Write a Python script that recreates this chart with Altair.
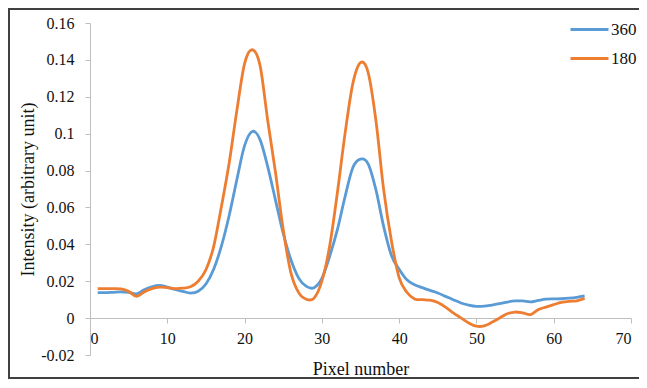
import altair as alt
import pandas as pd

pixels = list(range(1, 65))

s360 = [0.0138, 0.0138, 0.0140, 0.0142, 0.0140, 0.0131, 0.0154, 0.0170, 0.0177, 0.0168,
        0.0155, 0.0145, 0.0136, 0.0146, 0.0185, 0.0265, 0.0390, 0.0555, 0.0750, 0.0935,
        0.1012, 0.0968, 0.0820, 0.0640, 0.0460, 0.0316, 0.0217, 0.0172, 0.0165, 0.0215,
        0.0334, 0.0478, 0.0658, 0.0815, 0.0862, 0.0835, 0.0695, 0.0496, 0.0340, 0.0265,
        0.0208, 0.0181, 0.0165, 0.0150, 0.0136, 0.0118, 0.0100, 0.0082, 0.0071, 0.0064,
        0.0065, 0.0071, 0.0078, 0.0087, 0.0093, 0.0093, 0.0088, 0.0096, 0.0103, 0.0104,
        0.0105, 0.0108, 0.0113, 0.0120]

s180 = [0.0160, 0.0160, 0.0160, 0.0158, 0.0145, 0.0118, 0.0142, 0.0160, 0.0168, 0.0165,
        0.0160, 0.0162, 0.0170, 0.0200, 0.0262, 0.0388, 0.0604, 0.0840, 0.1125, 0.1380,
        0.1455, 0.1370, 0.1070, 0.0790, 0.0480, 0.0245, 0.0138, 0.0102, 0.0108, 0.0200,
        0.0388, 0.0677, 0.1000, 0.1270, 0.1385, 0.1330, 0.1070, 0.0695, 0.0420, 0.0220,
        0.0140, 0.0104, 0.0100, 0.0097, 0.0085, 0.0060, 0.0028, 0.0001, -0.0026, -0.0044,
        -0.0042, -0.0023, 0.0001, 0.0024, 0.0033, 0.0028, 0.0019, 0.0046, 0.0060, 0.0073,
        0.0085, 0.0091, 0.0094, 0.0107]

series_names = ["360", "180"]
series_colors = ["#5B9BD5", "#ED7D31"]
x_ticks = [0, 10, 20, 30, 40, 50, 60, 70]
y_ticks = [-0.02, 0, 0.02, 0.04, 0.06, 0.08, 0.10, 0.12, 0.14, 0.16]

df = pd.concat([
    pd.DataFrame({"pixel": pixels, "intensity": s360, "series": "360", "order": 0}),
    pd.DataFrame({"pixel": pixels, "intensity": s180, "series": "180", "order": 1}),
])

FONT = "Liberation Serif"
W, H = 541, 332

lines = alt.Chart(df).mark_line(strokeWidth=2.8, interpolate="cardinal").encode(
    x=alt.X("pixel:Q",
            scale=alt.Scale(domain=[0, 70], nice=False),
            axis=alt.Axis(values=x_ticks, offset=-37, grid=False,
                          domainColor="#BFBFBF", tickColor="#BFBFBF", tickSize=5,
                          labelPadding=7, labelFontSize=16, labelFont=FONT, labelColor="#111",
                          title="Pixel number", titleFont=FONT, titleFontSize=18,
                          titleFontWeight="normal", titleColor="#111", titlePadding=14)),
    y=alt.Y("intensity:Q",
            scale=alt.Scale(domain=[-0.02, 0.16], nice=False, zero=False),
            axis=alt.Axis(values=y_ticks, grid=False,
                          labelExpr="replace(format(datum.value, '.2~f'), '\u2212', '-')",
                          domainColor="#BFBFBF", tickColor="#BFBFBF", tickSize=5,
                          labelPadding=11, labelFontSize=16, labelFont=FONT, labelColor="#111",
                          title="Intensity (arbitrary unit)", titleFont=FONT, titleFontSize=18,
                          titleFontWeight="normal", titleColor="#111", titlePadding=3)),
    color=alt.Color("series:N",
                    scale=alt.Scale(domain=series_names, range=series_colors),
                    legend=alt.Legend(title=None, orient="none", legendX=479, legendY=-14,
                                      symbolType="stroke", symbolSize=1444,
                                      symbolStrokeWidth=3, labelFont=FONT, labelFontSize=17,
                                      labelColor="#111", labelOffset=1, rowPadding=-10)),
    detail="order:O",
)

one = alt.Data(values=[{}])
border = dict(color="#404040", strokeWidth=2)
top_edge = alt.Chart(one).mark_rule(**border).encode(
    x=alt.value(-82), x2=alt.value(600), y=alt.value(-14))
left_edge = alt.Chart(one).mark_rule(**border).encode(
    x=alt.value(-81), y=alt.value(-15), y2=alt.value(356))
bottom_edge = alt.Chart(one).mark_rule(**border).encode(
    x=alt.value(-82), x2=alt.value(600), y=alt.value(355))

chart = alt.layer(top_edge, left_edge, bottom_edge, lines).properties(
    width=W, height=H,
    autosize=alt.AutoSizeParams(type="none"),
    padding={"left": 82, "top": 15, "right": 8, "bottom": 25},
).configure_view(strokeWidth=0).configure_axis(
    labelFont=FONT, titleFont=FONT
).configure_legend(labelFont=FONT)

chart.save("out.html", embed_options={"renderer": "svg", "actions": False})
